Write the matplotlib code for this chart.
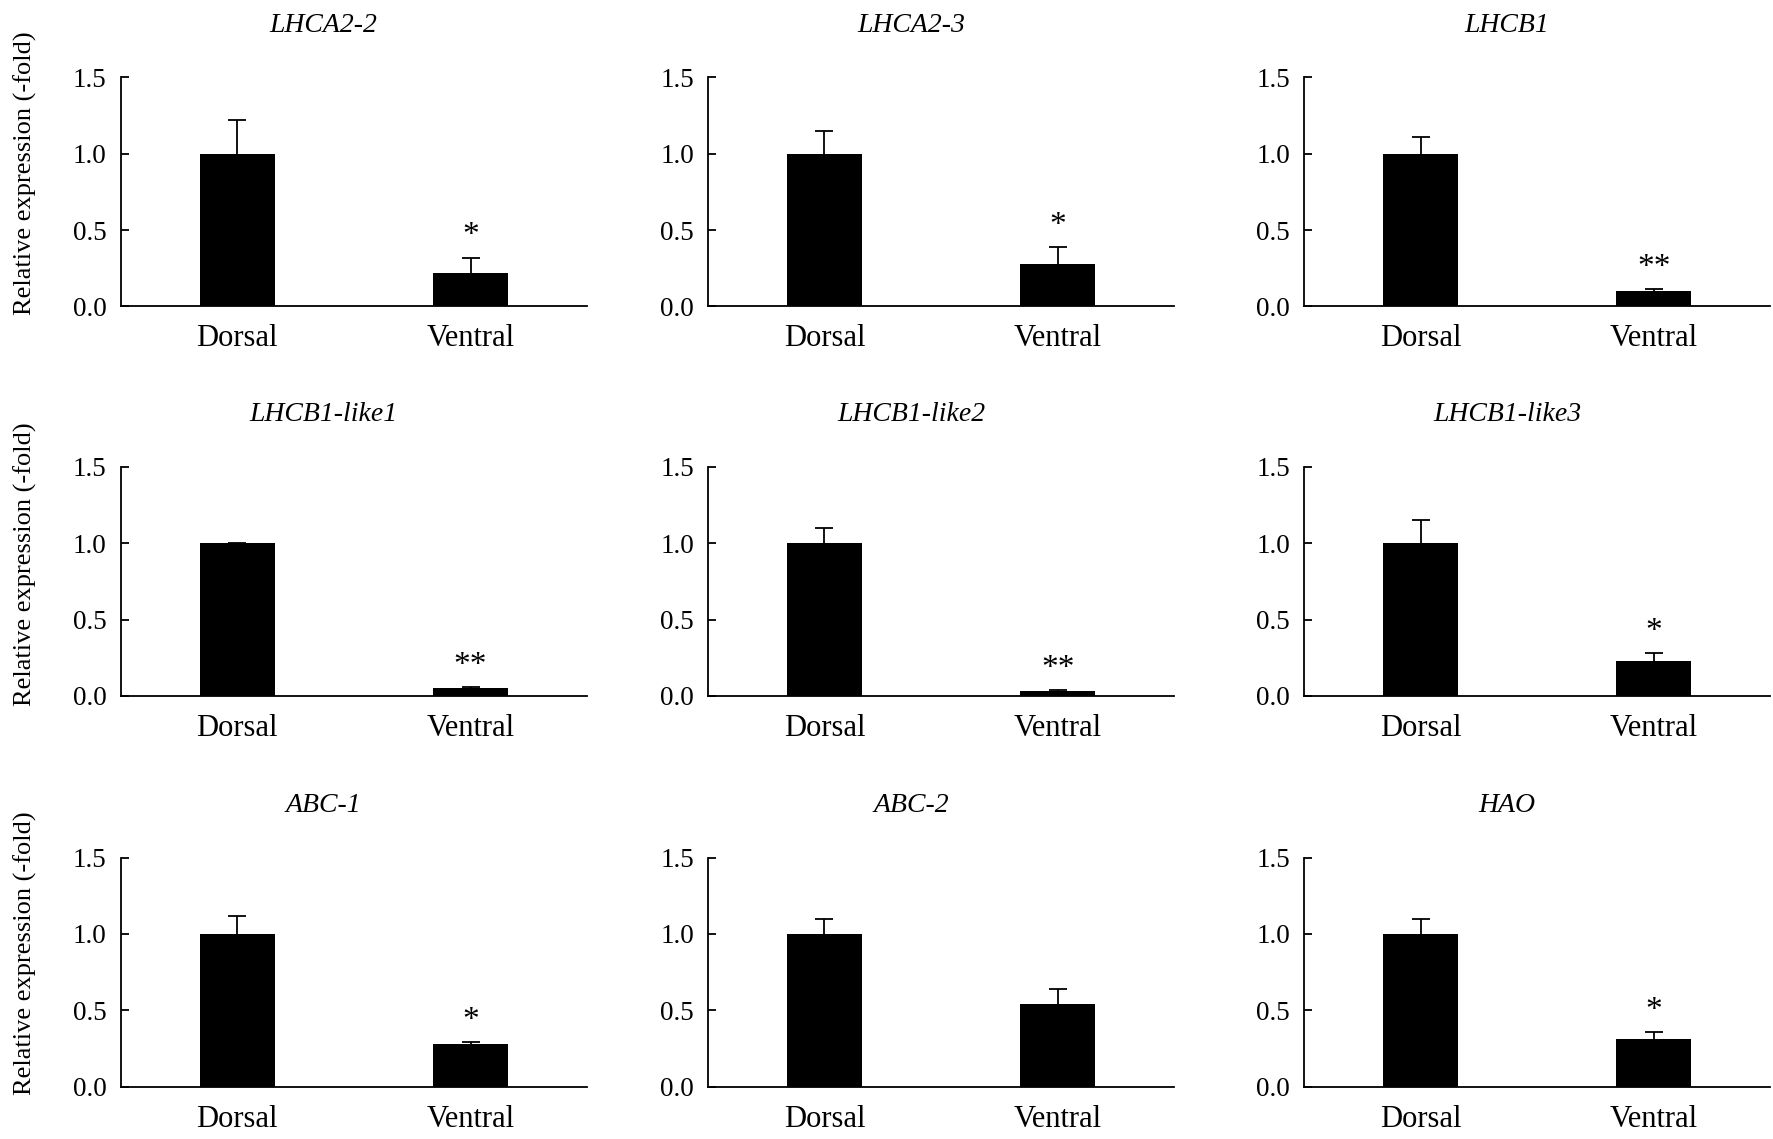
import matplotlib
matplotlib.use('Agg')
import matplotlib.pyplot as plt

plt.rcParams['font.family'] = ['Liberation Serif', 'DejaVu Serif']

# gene names, one panel each
genes = ['LHCA2-2', 'LHCA2-3', 'LHCB1',
         'LHCB1-like1', 'LHCB1-like2', 'LHCB1-like3',
         'ABC-1', 'ABC-2', 'HAO']
tissues = ['Dorsal', 'Ventral']

# mean relative expression
dorsal = [1.0, 1.0, 1.0, 1.0, 1.0, 1.0, 1.0, 1.0, 1.0]
ventral = [0.22, 0.28, 0.10, 0.05, 0.03, 0.23, 0.28, 0.54, 0.31]

# upper error bars
dorsal_err = [0.22, 0.15, 0.11, 0.005, 0.10, 0.15, 0.12, 0.10, 0.10]
ventral_err = [0.10, 0.11, 0.015, 0.01, 0.01, 0.05, 0.01, 0.10, 0.05]

# significance marks on the ventral bar
signif = ['*', '*', '**', '**', '**', '*', '*', '', '*']

fig = plt.figure(figsize=(17.74, 11.39), dpi=100)

lefts = [0.068, 0.399, 0.735]
bottoms = [0.731, 0.389, 0.046]
w, h = 0.263, 0.201
label_y = [0.848, 0.505, 0.163]

for i, gene in enumerate(genes):
    r, c = divmod(i, 3)
    ax = fig.add_axes([lefts[c], bottoms[r], w, h])
    vals = [dorsal[i], ventral[i]]
    errs = [dorsal_err[i], ventral_err[i]]
    tops = [v + e for v, e in zip(vals, errs)]
    ax.bar([0, 1], vals, width=0.32, color='black', zorder=2)
    # upper-only error bars, cap on top only
    ax.vlines([0, 1], vals, tops, color='black', lw=1.3, zorder=1)
    ax.plot([0, 1], tops, ls='none', marker='_', markersize=13,
            markeredgewidth=1.3, color='black', zorder=1)
    if signif[i]:
        ax.text(1, tops[1] + 0.14, signif[i],
                ha='center', va='center', fontsize=24)
    ax.set_xlim(-0.5, 1.5)
    ax.set_ylim(0, 1.5)
    ax.set_yticks([0, 0.5, 1.0, 1.5])
    ax.set_yticklabels(['0.0', '0.5', '1.0', '1.5'])
    ax.set_xticks([0, 1])
    ax.set_xticklabels(tissues)
    ax.spines['top'].set_visible(False)
    ax.spines['right'].set_visible(False)
    ax.spines['left'].set_linewidth(1.3)
    ax.spines['bottom'].set_linewidth(1.3)
    ax.tick_params(axis='y', direction='in', length=6, width=1.3,
                   labelsize=19.5, pad=10)
    ax.tick_params(axis='x', length=0, labelsize=22, pad=13)
    fig.text(lefts[c] + w / 2 - 0.017, bottoms[r] + h + 0.046, gene,
             ha='center', va='center', fontsize=20, style='italic')
    if c == 0:
        fig.text(0.014, label_y[r], 'Relative expression (-fold)',
                 rotation=90, ha='center', va='center', fontsize=19)

fig.savefig('out.png', dpi=100)
